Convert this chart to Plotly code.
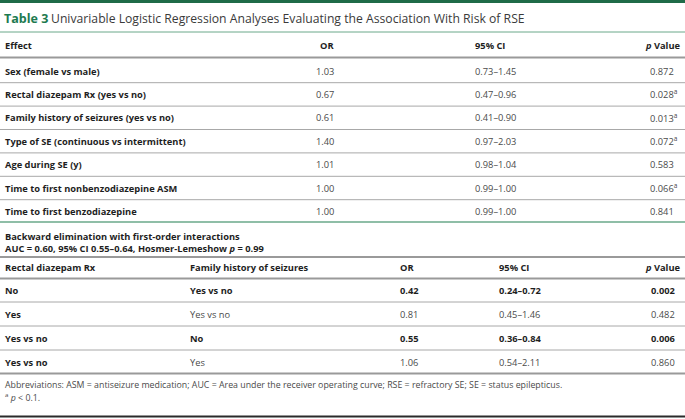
import plotly.graph_objects as go

W, H = 685, 419
FONT = "Open Sans"

# ---------------- data ----------------
table_label = "Table 3"
table_title = "Univariable Logistic Regression Analyses Evaluating the Association With Risk of RSE"

uni_headers = ["Effect", "OR", "95% CI", "<i>p</i> Value"]
uni_effects = [
    "Sex (female vs male)",
    "Rectal diazepam Rx (yes vs no)",
    "Family history of seizures (yes vs no)",
    "Type of SE (continuous vs intermittent)",
    "Age during SE (y)",
    "Time to first nonbenzodiazepine ASM",
    "Time to first benzodiazepine",
]
uni_or = ["1.03", "0.67", "0.61", "1.40", "1.01", "1.00", "1.00"]
uni_ci = ["0.73–1.45", "0.47–0.96", "0.41–0.90", "0.97–2.03", "0.98–1.04", "0.99–1.00", "0.99–1.00"]
uni_p = ["0.872", "0.028", "0.013", "0.072", "0.583", "0.066", "0.841"]
uni_flag = [False, True, True, True, False, True, False]

model_line1 = "Backward elimination with first-order interactions"
model_line2 = "AUC = 0.60, 95% CI 0.55–0.64, Hosmer-Lemeshow <i>p</i> = 0.99"

int_headers = ["Rectal diazepam Rx", "Family history of seizures", "OR", "95% CI", "<i>p</i> Value"]
int_rectal = ["No", "Yes", "Yes vs no", "Yes vs no"]
int_family = ["Yes vs no", "Yes vs no", "No", "Yes"]
int_or = ["0.42", "0.81", "0.55", "1.06"]
int_ci = ["0.24–0.72", "0.45–1.46", "0.36–0.84", "0.54–2.11"]
int_p = ["0.002", "0.482", "0.006", "0.860"]
int_sig = [True, False, True, False]

footnote1 = ("Abbreviations: ASM = antiseizure medication; AUC = Area under the receiver operating curve; "
             "RSE = refractory SE; SE = status epilepticus.")
footnote2 = "<sup>a</sup> <i>p</i> &lt; 0.1."

# ---------------- styling ----------------
DARK_GREEN = "#1f6b48"
TITLE_GREEN = "#1d7a50"
LINE_GREEN = "#6aa88a"
BOLD_C = "#1e1e1e"
REG_C = "#4a4a4a"
LINE_GRAY = "#a8a8a8"
FS = 9.3

fig = go.Figure()
shapes = []
ann = []


def hline(y, color=LINE_GRAY, width=1, x0=0, x1=W):
    shapes.append(dict(type="line", xref="x", yref="y", x0=x0, x1=x1, y0=y, y1=y,
                       line=dict(color=color, width=width)))


def text(x, y, s, bold=False, anchor="left", size=FS, color=None):
    if bold:
        s = "<b>" + s + "</b>"
    ann.append(dict(x=x, y=y, xref="x", yref="y", text=s, showarrow=False,
                    xanchor=anchor, yanchor="middle",
                    font=dict(family=FONT, size=size, color=color or (BOLD_C if bold else REG_C))))


# top bar and title
shapes.append(dict(type="rect", xref="x", yref="y", x0=0, x1=W, y0=0, y1=3,
                   fillcolor=DARK_GREEN, line=dict(width=0)))
ann.append(dict(x=2, y=18.5, xref="x", yref="y", showarrow=False, xanchor="left", yanchor="middle",
                text="<b>" + table_label + "</b>",
                font=dict(family=FONT, size=12.5, color=TITLE_GREEN)))
ann.append(dict(x=49, y=18.5, xref="x", yref="y", showarrow=False, xanchor="left", yanchor="middle",
                text=table_title, font=dict(family=FONT, size=12.2, color="#3a3a3a")))
hline(32, LINE_GREEN, 1)

# univariable table
X_EFF, X_OR, X_CI, X_P, X_PH = 3, 336, 473, 648, 683
HDR_Y = 45.5
text(X_EFF, HDR_Y, uni_headers[0], bold=True)
text(X_OR, HDR_Y, uni_headers[1], bold=True, anchor="right")
text(X_CI, HDR_Y, uni_headers[2], bold=True)
text(X_PH, HDR_Y, uni_headers[3], bold=True, anchor="right")
hline(57.5, "#9a9a9a", 2)

row0, pitch = 71, 23.4
for i in range(len(uni_effects)):
    y = row0 + i * pitch
    text(X_EFF, y, uni_effects[i], bold=True)
    text(X_OR, y, uni_or[i], anchor="right")
    text(X_CI, y, uni_ci[i])
    text(X_P, y, uni_p[i] + ("<sup>a</sup>" if uni_flag[i] else ""))
    if i < len(uni_effects) - 1:
        hline(y + pitch / 2, LINE_GRAY, 1)
hline(222, LINE_GREEN, 1.3)

# model description
text(X_EFF, 236, model_line1, bold=True)
text(X_EFF, 248.5, model_line2, bold=True)
hline(257, "#9a9a9a", 2)

# interaction table
IX = [3, 188, 398, 497, 683]
IH_Y = 267
for j, h in enumerate(int_headers):
    text(IX[j], IH_Y, h, bold=True, anchor="right" if j == 4 else "left")
hline(278.5, "#9a9a9a", 2)
IP_X = 649
irow0, ipitch = 290, 24
for i in range(len(int_rectal)):
    y = irow0 + i * ipitch
    b = int_sig[i]
    text(IX[0], y, int_rectal[i], bold=True)
    text(IX[1], y, int_family[i], bold=b)
    text(IX[2], y, int_or[i], bold=b)
    text(IX[3], y, int_ci[i], bold=b)
    text(IP_X, y, int_p[i], bold=b)
    if i < len(int_rectal) - 1:
        hline(y + ipitch / 2, LINE_GRAY, 1)
hline(373.5, "#9a9a9a", 2)

# footnotes
text(X_EFF, 384.5, footnote1, size=8.8)
text(X_EFF, 397, footnote2, size=8.8)
hline(416.5, "#2a2a2a", 2)

fig.update_layout(
    width=W, height=H,
    margin=dict(l=0, r=0, t=0, b=0),
    paper_bgcolor="white", plot_bgcolor="white",
    xaxis=dict(range=[0, W], visible=False, fixedrange=True),
    yaxis=dict(range=[H, 0], visible=False, fixedrange=True),
    shapes=shapes, annotations=ann, showlegend=False,
)
fig.write_html(
    "out.html",
    config={"displayModeBar": False},
    post_script="document.body.style.margin='0';document.body.style.overflow='hidden';",
)
